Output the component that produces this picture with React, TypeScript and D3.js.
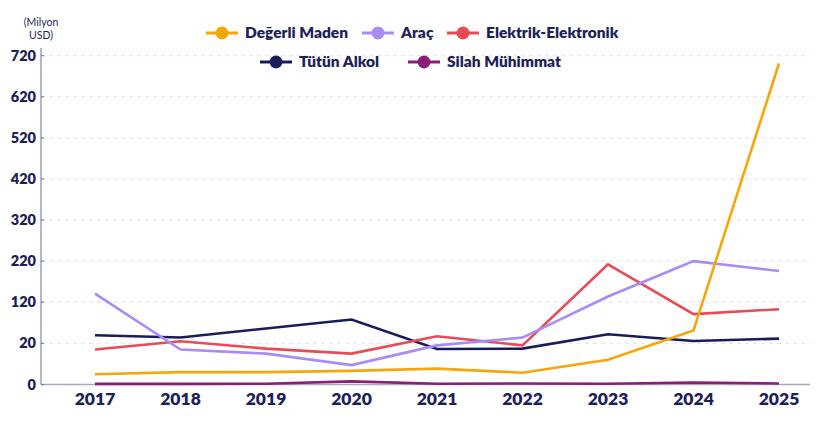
import * as d3 from "d3";

const years = ["2017", "2018", "2019", "2020", "2021", "2022", "2023", "2024", "2025"];
const yTicks = [0, 20, 120, 220, 320, 420, 520, 620, 720];

const degerliMaden = [5, 6, 6, 6.6, 7.7, 5.7, 12, 51, 701];
const arac = [141, 17, 15, 9.4, 19, 34, 134, 220, 196];
const elektrik = [17, 25, 17.4, 15, 37, 19, 212, 91, 103];
const tutunAlkol = [39.5, 34, 56, 78, 17.2, 17.4, 42, 25.6, 31.4];
const silahMuhimmat = [0.3, 0.3, 0.4, 1.5, 0.4, 0.5, 0.4, 1, 0.5];

const series = [
  { name: "Değerli Maden", values: degerliMaden, color: "#F6A609" },
  { name: "Araç", values: arac, color: "#A98BF5" },
  { name: "Elektrik-Elektronik", values: elektrik, color: "#E84B55" },
  { name: "Tütün Alkol", values: tutunAlkol, color: "#1A1B5B" },
  { name: "Silah Mühimmat", values: silahMuhimmat, color: "#8A1F78" },
];

// legend rows: [series index, x of marker start]
const legendRows = [
  { y: 33, items: [[0, 206], [1, 362], [2, 447]] },
  { y: 62, items: [[3, 260], [4, 408]] },
];

const textColor = "#1E1F5A";
const font = "Lato, 'DejaVu Sans', sans-serif";

export default function App() {
  const width = 820;
  const height = 426;
  const axisLeft = 41;
  const axisRight = 810;

  const x = d3.scalePoint<string>().domain(years).range([95, 779]);
  // the original axis gives 0-20 the same span as each 100 step
  const y = d3.scaleLinear().domain([0, 20, 720]).range([384.5, 343.3, 55.7]);

  const line = d3
    .line<number>()
    .x((_, i) => x(years[i]) as number)
    .y((d) => y(d));

  return (
    <svg
      width={width}
      height={height}
      style={{ position: "absolute", left: 0, top: 0, background: "white" }}
    >
      {/* unit label */}
      <text x={41} y={26} textAnchor="middle" fontSize={10.5} fontFamily={font} fill={textColor}>
        (Milyon
      </text>
      <text x={41} y={39} textAnchor="middle" fontSize={10.5} fontFamily={font} fill={textColor}>
        USD)
      </text>

      {/* grid */}
      {yTicks.filter((t) => t > 0).map((t) => (
        <line
          key={`g${t}`}
          x1={axisLeft}
          x2={axisRight}
          y1={y(t)}
          y2={y(t)}
          stroke="#E2E2EA"
          strokeWidth={1}
          strokeDasharray="4,4"
        />
      ))}

      {/* axes */}
      <line x1={axisLeft} x2={axisLeft} y1={48} y2={y(0)} stroke="#6E6F98" strokeWidth={1} />
      <line x1={axisLeft} x2={axisRight} y1={y(0)} y2={y(0)} stroke="#A9A9BC" strokeWidth={1.5} />
      {yTicks.map((t) => (
        <g key={`t${t}`}>
          <line x1={axisLeft} x2={axisLeft + 3} y1={y(t)} y2={y(t)} stroke="#6E6F98" />
          <text
            x={36}
            y={y(t)}
            dy="0.35em"
            textAnchor="end"
            fontSize={14.5}
            fontWeight={800}
            fontFamily={font}
            fill={textColor}
          >
            {t}
          </text>
        </g>
      ))}
      {years.map((yr) => (
        <text
          key={yr}
          x={x(yr)}
          y={405}
          textAnchor="middle"
          fontSize={17.5}
          fontWeight={800}
          fontFamily={font}
          fill={textColor}
        >
          {yr}
        </text>
      ))}

      {/* lines */}
      {[4, 3, 2, 1, 0].map((i) => (
        <path
          key={series[i].name}
          d={line(series[i].values) || ""}
          fill="none"
          stroke={series[i].color}
          strokeWidth={2.6}
          strokeLinejoin="miter"
        />
      ))}

      {/* legend */}
      {legendRows.map((row) =>
        row.items.map(([si, lx]) => {
          const s = series[si];
          return (
            <g key={s.name}>
              <line x1={lx} x2={lx + 32} y1={row.y} y2={row.y} stroke={s.color} strokeWidth={3} />
              <circle cx={lx + 16} cy={row.y} r={6.5} fill={s.color} />
              <text
                x={lx + 39}
                y={row.y}
                dy="0.35em"
                fontSize={15.5}
                fontWeight={800}
                fontFamily={font}
                fill={textColor}
              >
                {s.name}
              </text>
            </g>
          );
        })
      )}
    </svg>
  );
}
